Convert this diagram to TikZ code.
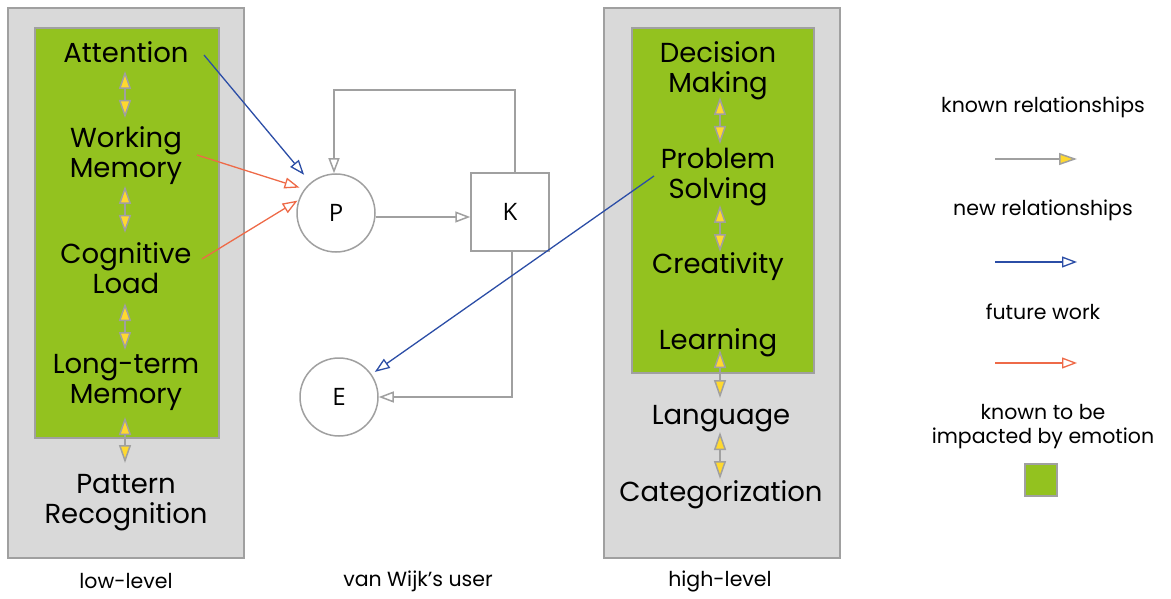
\documentclass[tikz,border=0pt]{standalone}
\usepackage{fontspec}
\setmainfont{Poppins}
\newfontfamily\letterfont{Open Sans}
\usetikzlibrary{arrows.meta}

\definecolor{panelgray}{HTML}{D9D9D9}
\definecolor{edgegray}{HTML}{A0A0A0}
\definecolor{emogreen}{HTML}{93C21F}
\definecolor{tipyellow}{HTML}{FFD92F}
\definecolor{newblue}{HTML}{2B4DA6}
\definecolor{futorange}{HTML}{EE6A48}

\tikzset{
  panel/.style={draw=edgegray, line width=2pt, fill=panelgray, inner sep=0pt, outer sep=0pt},
  emo/.style={draw=edgegray, line width=2pt, fill=emogreen, inner sep=0pt, outer sep=0pt},
  concept/.style={align=center, inner sep=0pt, font=\fontsize{27.5}{30}\selectfont},
  caption/.style={align=center, inner sep=0pt, font=\fontsize{20.5}{24}\selectfont},
  stage/.style={draw=edgegray, line width=1.5pt, fill=white, inner sep=0pt,
    font=\letterfont\fontsize{24}{28}\selectfont},
  yeltip/.tip={Triangle[length=18pt, width=12pt, fill=tipyellow]},
  opentip/.tip={Triangle[open, length=15pt, width=11pt, fill=white]},
  knownlink/.style={draw=edgegray, line width=1.5pt, yeltip-yeltip},
  knownone/.style={draw=edgegray, line width=1.5pt, -yeltip},
  flow/.style={draw=edgegray, line width=1.5pt, -opentip},
  newrel/.style={draw=newblue, line width=1.3pt, -opentip},
  future/.style={draw=futorange, line width=1.3pt, -opentip},
}

\begin{document}
\begin{tikzpicture}[x=1pt, y=-1pt]
\useasboundingbox (0,0) rectangle (1171,599);

% low-level panel
\node[panel, minimum width=236pt, minimum height=550pt] (lowpanel) at (126,283) {};
\node[emo, minimum width=184pt, minimum height=410pt] (lowemo) at (127,233) {};
\node[concept] (att) at (126,52) {Attention};
\node[concept] (wm) at (126,156) {Working\\Memory};
\node[concept] (cl) at (126,268) {Cognitive\\Load};
\node[concept] (ltm) at (126,382) {Long-term\\Memory};
\node[concept] (pr) at (126,503) {Pattern\\Recognition};

\coordinate (a1) at (125,71);  \coordinate (b1) at (125,118);
\coordinate (a2) at (125,186); \coordinate (b2) at (125,233);
\coordinate (a3) at (125,303); \coordinate (b3) at (125,350);
\coordinate (a4) at (125,417); \coordinate (b4) at (125,463);
\draw[knownlink] (a1) -- (b1);
\draw[knownlink] (a2) -- (b2);
\draw[knownlink] (a3) -- (b3);
\draw[knownlink] (a4) -- (b4);

% high-level panel
\node[panel, minimum width=236pt, minimum height=550pt] (highpanel) at (722,283) {};
\node[emo, minimum width=182pt, minimum height=345pt] (highemo) at (723,200.5) {};
\node[concept] (dm) at (718,71) {Decision\\Making};
\node[concept] (ps) at (718,177) {Problem\\Solving};
\node[concept] (cr) at (718,267) {Creativity};
\node[concept] (le) at (718,343) {Learning};
\node[concept] (la) at (721,419) {Language};
\node[concept] (ca) at (721,495) {Categorization};

\coordinate (c1) at (720,97);  \coordinate (d1) at (720,144);
\coordinate (c2) at (720,205); \coordinate (d2) at (720,252);
\coordinate (c3) at (720,350); \coordinate (d3) at (720,398);
\coordinate (c4) at (720,432); \coordinate (d4) at (720,479);
\draw[knownlink] (c1) -- (d1);
\draw[knownlink] (c2) -- (d2);
\draw[knownlink] (c3) -- (d3);
\draw[knownlink] (c4) -- (d4);

% van Wijk's user model
\node[stage, circle, minimum size=78pt] (P) at (336,213) {P};
\node[stage, rectangle, minimum size=78pt] (K) at (510,212) {K};
\node[stage, circle, minimum size=78pt] (E) at (339,397) {E};

\draw[flow] ([yshift=-4pt]P.east) -- ([yshift=-4pt]P.east -| K.west);
\draw[flow] ([xshift=5pt]K.north) -- ++(0,-82) -| ([xshift=-2pt]P.north);
\draw[flow] ([xshift=2pt]K.south) |- (E.east);

% relations from the cognitive processes
\coordinate (attout) at (204,55);
\coordinate (wmout) at (197,155);
\coordinate (clout) at (202,259);
\coordinate (psout) at (654,176);
\draw[newrel, shorten >=10pt] (attout) -- (P);
\draw[future, shorten >=5pt] (wmout) -- (P.143);
\draw[future, shorten >=1pt] (clout) -- (P.161);
\draw[newrel, shorten >=4pt] (psout) -- (E.35);

% captions
\node[caption] (lowcap) at (126,581) {low-level};
\node[caption] (usercap) at (418,581) {van Wijk's user};
\node[caption] (highcap) at (720,581) {high-level};

% legend
\node[caption] (lgknown) at (1043,107) {known relationships};
\coordinate (k1) at (995,159); \coordinate (k2) at (1077,159);
\draw[knownone] (k1) -- (k2);
\node[caption] (lgnew) at (1043,210) {new relationships};
\coordinate (n1) at (995,262); \coordinate (n2) at (1077,262);
\draw[newrel] (n1) -- (n2);
\node[caption] (lgfut) at (1043,312) {future work};
\coordinate (f1) at (995,363); \coordinate (f2) at (1077,363);
\draw[future] (f1) -- (f2);
\node[caption] (lgemo) at (1043,427) {known to be\\impacted by emotion};
\node[emo, minimum size=32pt] (lgbox) at (1041,480) {};
\end{tikzpicture}
\end{document}
